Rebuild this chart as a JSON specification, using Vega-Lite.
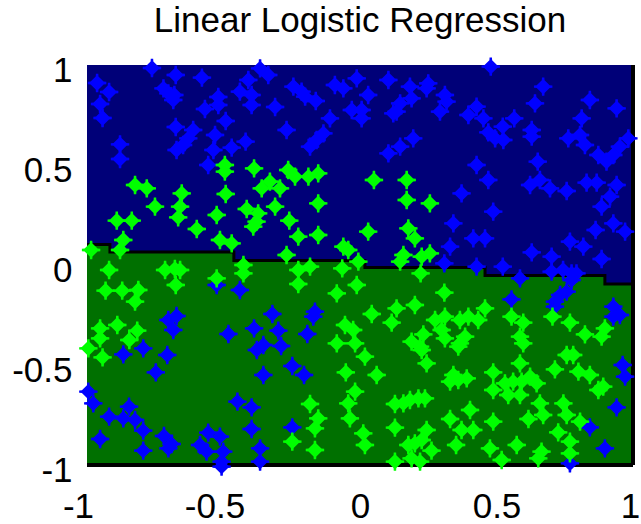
{
"$schema":"https://vega.github.io/schema/vega-lite/v6.json",
"width":546,"height":400,
"autosize":{"type":"none"},
"padding":{"left":87,"top":65,"right":8,"bottom":59},
"background":"white",
"view":{"fill":"#000078","stroke":null},
"title":{"text":"Linear Logistic Regression","font":"Liberation Sans","fontSize":35,"fontWeight":"normal","color":"black","baseline":"alphabetic","offset":0,"dy":14,"anchor":"middle"},
"datasets":{
"bnd":[{"x":-1,"y":0.103},{"x":-0.916,"y":0.065},{"x":-0.462,"y":0.022},{"x":0.018,"y":-0.0125},{"x":0.458,"y":-0.0525},{"x":0.897,"y":-0.095},{"x":1,"y":-0.095}],
"pts":[
{"x":-0.762,"y":0.985,"c":"b"},{"x":-0.675,"y":0.95,"c":"b"},{"x":-0.579,"y":0.937,"c":"b"},{"x":-0.963,"y":0.91,"c":"b"},{"x":-0.919,"y":0.865,"c":"b"},{"x":-0.952,"y":0.805,"c":"b"},{"x":-0.943,"y":0.735,"c":"b"},
{"x":-0.72,"y":0.883,"c":"b"},{"x":-0.702,"y":0.858,"c":"b"},{"x":-0.68,"y":0.85,"c":"b"},{"x":-0.684,"y":0.825,"c":"b"},
{"x":-0.519,"y":0.84,"c":"b"},{"x":-0.519,"y":0.8,"c":"b"},{"x":-0.568,"y":0.78,"c":"b"},{"x":-0.492,"y":0.72,"c":"b"},{"x":-0.675,"y":0.69,"c":"b"},
{"x":-0.611,"y":0.675,"c":"b"},{"x":-0.629,"y":0.633,"c":"b"},{"x":-0.648,"y":0.6,"c":"b"},{"x":-0.672,"y":0.575,"c":"b"},
{"x":-0.531,"y":0.65,"c":"b"},{"x":-0.537,"y":0.575,"c":"b"},{"x":-0.47,"y":0.587,"c":"b"},{"x":-0.419,"y":0.617,"c":"b"},{"x":-0.879,"y":0.603,"c":"b"},{"x":-0.879,"y":0.53,"c":"b"},{"x":-0.556,"y":0.5,"c":"b"},
{"x":-0.366,"y":0.983,"c":"b"},{"x":-0.336,"y":0.95,"c":"b"},{"x":-0.409,"y":0.925,"c":"b"},{"x":-0.44,"y":0.867,"c":"b"},{"x":-0.397,"y":0.85,"c":"b"},{"x":-0.397,"y":0.8,"c":"b"},{"x":-0.311,"y":0.79,"c":"b"},
{"x":-0.244,"y":0.892,"c":"b"},{"x":-0.214,"y":0.867,"c":"b"},{"x":-0.201,"y":0.842,"c":"b"},{"x":-0.162,"y":0.82,"c":"b"},{"x":-0.11,"y":0.733,"c":"b"},{"x":-0.092,"y":0.9,"c":"b"},{"x":-0.061,"y":0.883,"c":"b"},
{"x":-0.012,"y":0.933,"c":"b"},{"x":-0.03,"y":0.775,"c":"b"},{"x":-0.269,"y":0.675,"c":"b"},{"x":-0.134,"y":0.658,"c":"b"},{"x":-0.159,"y":0.625,"c":"b"},{"x":-0.183,"y":0.592,"c":"b"},
{"x":0.479,"y":0.992,"c":"b"},{"x":0.104,"y":0.925,"c":"b"},{"x":0.183,"y":0.892,"c":"b"},{"x":0.25,"y":0.908,"c":"b"},{"x":0.244,"y":0.883,"c":"b"},{"x":0.03,"y":0.85,"c":"b"},{"x":0.671,"y":0.892,"c":"b"},
{"x":0.311,"y":0.85,"c":"b"},{"x":0.317,"y":0.817,"c":"b"},{"x":0.189,"y":0.833,"c":"b"},{"x":0.147,"y":0.808,"c":"b"},{"x":0.134,"y":0.767,"c":"b"},{"x":0.122,"y":0.758,"c":"b"},{"x":0.006,"y":0.775,"c":"b"},{"x":0.006,"y":0.733,"c":"b"},
{"x":0.293,"y":0.767,"c":"b"},{"x":0.427,"y":0.792,"c":"b"},{"x":0.397,"y":0.75,"c":"b"},{"x":0.452,"y":0.733,"c":"b"},{"x":0.641,"y":0.808,"c":"b"},{"x":0.842,"y":0.825,"c":"b"},{"x":0.94,"y":0.783,"c":"b"},{"x":0.565,"y":0.733,"c":"b"},{"x":0.812,"y":0.733,"c":"b"},
{"x":0.523,"y":0.692,"c":"b"},{"x":0.47,"y":0.663,"c":"b"},{"x":0.495,"y":0.633,"c":"b"},{"x":0.525,"y":0.625,"c":"b"},{"x":0.629,"y":0.675,"c":"b"},{"x":0.629,"y":0.642,"c":"b"},
{"x":0.195,"y":0.633,"c":"b"},{"x":0.147,"y":0.592,"c":"b"},{"x":0.104,"y":0.558,"c":"b"},{"x":0.763,"y":0.633,"c":"b"},{"x":0.806,"y":0.65,"c":"b"},{"x":0.824,"y":0.6,"c":"b"},
{"x":0.983,"y":0.633,"c":"b"},{"x":0.952,"y":0.592,"c":"b"},{"x":0.928,"y":0.55,"c":"b"},{"x":0.903,"y":0.517,"c":"b"},{"x":0.873,"y":0.55,"c":"b"},
{"x":0.427,"y":0.5,"c":"b"},{"x":0.651,"y":0.517,"c":"b"},{"x":0.47,"y":0.425,"c":"b"},{"x":0.623,"y":0.4,"c":"b"},{"x":0.659,"y":0.425,"c":"b"},{"x":0.696,"y":0.383,"c":"b"},{"x":0.757,"y":0.37,"c":"b"},
{"x":0.83,"y":0.412,"c":"b"},{"x":0.867,"y":0.412,"c":"b"},{"x":0.94,"y":0.4,"c":"b"},{"x":0.916,"y":0.342,"c":"b"},{"x":0.885,"y":0.292,"c":"b"},{"x":0.372,"y":0.358,"c":"b"},{"x":0.488,"y":0.267,"c":"b"},{"x":0.342,"y":0.208,"c":"b"},
{"x":0.863,"y":0.175,"c":"b"},{"x":0.928,"y":0.208,"c":"b"},{"x":0.971,"y":0.167,"c":"b"},{"x":0.415,"y":0.133,"c":"b"},{"x":0.458,"y":0.133,"c":"b"},{"x":0.33,"y":0.092,"c":"b"},{"x":0.769,"y":0.117,"c":"b"},{"x":0.818,"y":0.092,"c":"b"},
{"x":0.629,"y":0.063,"c":"b"},{"x":0.702,"y":0.042,"c":"b"},{"x":0.885,"y":0.03,"c":"b"},
{"x":0.309,"y":0.008,"c":"b"},{"x":0.427,"y":-0.008,"c":"b"},{"x":0.523,"y":-0.008,"c":"b"},{"x":0.586,"y":-0.067,"c":"b"},{"x":0.702,"y":-0.033,"c":"b"},{"x":0.744,"y":-0.025,"c":"b"},{"x":0.775,"y":-0.042,"c":"b"},{"x":0.793,"y":-0.042,"c":"b"},{"x":0.775,"y":-0.075,"c":"b"},
{"x":0.757,"y":-0.133,"c":"b"},{"x":0.733,"y":-0.15,"c":"b"},{"x":0.714,"y":-0.183,"c":"b"},{"x":0.714,"y":-0.208,"c":"b"},{"x":0.555,"y":-0.172,"c":"b"},{"x":0.928,"y":-0.208,"c":"b"},{"x":0.928,"y":-0.258,"c":"b"},{"x":0.952,"y":-0.25,"c":"b"},
{"x":0.962,"y":-0.5,"c":"b"},{"x":0.971,"y":-0.558,"c":"b"},{"x":0.94,"y":-0.712,"c":"b"},{"x":0.842,"y":-0.812,"c":"b"},{"x":0.897,"y":-0.917,"c":"b"},{"x":0.769,"y":-0.992,"c":"b"},
{"x":-0.525,"y":-0.1,"c":"b"},{"x":-0.44,"y":-0.125,"c":"b"},{"x":-0.702,"y":-0.275,"c":"b"},{"x":-0.672,"y":-0.255,"c":"b"},{"x":-0.684,"y":-0.325,"c":"b"},{"x":-0.321,"y":-0.245,"c":"b"},{"x":-0.165,"y":-0.233,"c":"b"},{"x":-0.171,"y":-0.258,"c":"b"},
{"x":-0.482,"y":-0.345,"c":"b"},{"x":-0.388,"y":-0.317,"c":"b"},{"x":-0.299,"y":-0.328,"c":"b"},{"x":-0.193,"y":-0.345,"c":"b"},{"x":-0.794,"y":-0.417,"c":"b"},{"x":-0.867,"y":-0.447,"c":"b"},{"x":-0.706,"y":-0.45,"c":"b"},
{"x":-0.378,"y":-0.425,"c":"b"},{"x":-0.354,"y":-0.4,"c":"b"},{"x":-0.289,"y":-0.405,"c":"b"},{"x":-0.748,"y":-0.537,"c":"b"},{"x":-0.248,"y":-0.505,"c":"b"},{"x":-0.205,"y":-0.55,"c":"b"},{"x":-0.354,"y":-0.55,"c":"b"},
{"x":-0.995,"y":-0.633,"c":"b"},{"x":-0.977,"y":-0.692,"c":"b"},{"x":-0.846,"y":-0.708,"c":"b"},{"x":-0.919,"y":-0.758,"c":"b"},{"x":-0.867,"y":-0.767,"c":"b"},{"x":-0.824,"y":-0.775,"c":"b"},{"x":-0.794,"y":-0.828,"c":"b"},{"x":-0.952,"y":-0.87,"c":"b"},{"x":-0.794,"y":-0.928,"c":"b"},
{"x":-0.718,"y":-0.855,"c":"b"},{"x":-0.69,"y":-0.895,"c":"b"},{"x":-0.702,"y":-0.917,"c":"b"},{"x":-0.449,"y":-0.683,"c":"b"},{"x":-0.397,"y":-0.712,"c":"b"},{"x":-0.397,"y":-0.82,"c":"b"},{"x":-0.248,"y":-0.812,"c":"b"},
{"x":-0.556,"y":-0.838,"c":"b"},{"x":-0.513,"y":-0.858,"c":"b"},{"x":-0.586,"y":-0.9,"c":"b"},{"x":-0.562,"y":-0.933,"c":"b"},{"x":-0.501,"y":-0.933,"c":"b"},{"x":-0.507,"y":-0.983,"c":"b"},{"x":-0.507,"y":-1.008,"c":"b"},
{"x":-0.366,"y":-0.917,"c":"b"},{"x":-0.366,"y":-0.983,"c":"b"},
{"x":-0.495,"y":0.5,"c":"g"},{"x":-0.495,"y":0.467,"c":"g"},{"x":-0.388,"y":0.483,"c":"g"},{"x":-0.263,"y":0.475,"c":"g"},{"x":-0.238,"y":0.442,"c":"g"},{"x":-0.189,"y":0.442,"c":"g"},{"x":-0.153,"y":0.458,"c":"g"},
{"x":-0.824,"y":0.4,"c":"g"},{"x":-0.781,"y":0.383,"c":"g"},{"x":-0.653,"y":0.358,"c":"g"},{"x":-0.659,"y":0.292,"c":"g"},{"x":-0.666,"y":0.238,"c":"g"},{"x":-0.492,"y":0.355,"c":"g"},
{"x":-0.36,"y":0.383,"c":"g"},{"x":-0.33,"y":0.417,"c":"g"},{"x":-0.293,"y":0.383,"c":"g"},{"x":-0.751,"y":0.292,"c":"g"},
{"x":-0.415,"y":0.28,"c":"g"},{"x":-0.373,"y":0.258,"c":"g"},{"x":-0.379,"y":0.217,"c":"g"},{"x":-0.391,"y":0.192,"c":"g"},{"x":-0.311,"y":0.292,"c":"g"},{"x":-0.153,"y":0.308,"c":"g"},
{"x":-0.891,"y":0.222,"c":"g"},{"x":-0.836,"y":0.222,"c":"g"},{"x":-0.525,"y":0.25,"c":"g"},{"x":-0.598,"y":0.18,"c":"g"},{"x":-0.259,"y":0.222,"c":"g"},{"x":-0.226,"y":0.142,"c":"g"},{"x":-0.153,"y":0.15,"c":"g"},
{"x":-0.513,"y":0.125,"c":"g"},{"x":-0.47,"y":0.108,"c":"g"},{"x":-0.867,"y":0.125,"c":"g"},{"x":-0.879,"y":0.075,"c":"g"},{"x":-0.985,"y":0.075,"c":"g"},{"x":-0.269,"y":0.05,"c":"g"},{"x":-0.061,"y":0.092,"c":"g"},{"x":-0.043,"y":0.075,"c":"g"},
{"x":0.051,"y":0.425,"c":"g"},{"x":0.171,"y":0.425,"c":"g"},{"x":0.171,"y":0.325,"c":"g"},{"x":0.256,"y":0.308,"c":"g"},{"x":0.03,"y":0.167,"c":"g"},{"x":0.177,"y":0.183,"c":"g"},{"x":0.201,"y":0.133,"c":"g"},
{"x":0.159,"y":0.05,"c":"g"},{"x":0.147,"y":0.017,"c":"g"},{"x":0.226,"y":0.042,"c":"g"},{"x":0.256,"y":0.058,"c":"g"},{"x":-0.006,"y":0.017,"c":"g"},
{"x":-0.919,"y":-0.025,"c":"g"},{"x":-0.714,"y":-0.025,"c":"g"},{"x":-0.678,"y":-0.02,"c":"g"},{"x":-0.659,"y":-0.025,"c":"g"},{"x":-0.675,"y":-0.1,"c":"g"},{"x":-0.525,"y":-0.067,"c":"g"},{"x":-0.427,"y":0.0,"c":"g"},{"x":-0.427,"y":-0.042,"c":"g"},
{"x":-0.932,"y":-0.128,"c":"g"},{"x":-0.871,"y":-0.128,"c":"g"},{"x":-0.812,"y":-0.125,"c":"g"},{"x":-0.824,"y":-0.183,"c":"g"},{"x":-0.952,"y":-0.317,"c":"g"},{"x":-0.952,"y":-0.367,"c":"g"},{"x":-0.889,"y":-0.3,"c":"g"},{"x":-0.816,"y":-0.328,"c":"g"},
{"x":-0.845,"y":-0.375,"c":"g"},{"x":-0.995,"y":-0.417,"c":"g"},{"x":-0.943,"y":-0.462,"c":"g"},{"x":-0.226,"y":-0.025,"c":"g"},{"x":-0.183,"y":-0.008,"c":"g"},{"x":-0.226,"y":-0.095,"c":"g"},{"x":-0.065,"y":-0.017,"c":"g"},{"x":-0.085,"y":-0.142,"c":"g"},{"x":-0.012,"y":-0.1,"c":"g"},
{"x":-0.055,"y":-0.3,"c":"g"},{"x":-0.025,"y":-0.325,"c":"g"},{"x":-0.018,"y":-0.392,"c":"g"},{"x":-0.085,"y":-0.392,"c":"g"},{"x":-0.052,"y":-0.537,"c":"g"},{"x":-0.018,"y":-0.633,"c":"g"},{"x":-0.183,"y":-0.695,"c":"g"},{"x":-0.043,"y":-0.692,"c":"g"},{"x":-0.037,"y":-0.767,"c":"g"},
{"x":-0.153,"y":-0.767,"c":"g"},{"x":-0.165,"y":-0.817,"c":"g"},{"x":-0.248,"y":-0.883,"c":"g"},{"x":-0.165,"y":-0.925,"c":"g"},
{"x":0.222,"y":-0.042,"c":"g"},{"x":0.309,"y":-0.138,"c":"g"},{"x":0.458,"y":-0.217,"c":"g"},{"x":0.043,"y":-0.245,"c":"g"},{"x":0.134,"y":-0.217,"c":"g"},{"x":0.201,"y":-0.2,"c":"g"},{"x":0.116,"y":-0.288,"c":"g"},
{"x":0.275,"y":-0.275,"c":"g"},{"x":0.311,"y":-0.258,"c":"g"},{"x":0.366,"y":-0.275,"c":"g"},{"x":0.397,"y":-0.258,"c":"g"},{"x":0.433,"y":-0.275,"c":"g"},{"x":0.555,"y":-0.258,"c":"g"},{"x":0.598,"y":-0.288,"c":"g"},{"x":0.705,"y":-0.258,"c":"g"},{"x":0.769,"y":-0.288,"c":"g"},
{"x":0.824,"y":-0.347,"c":"g"},{"x":0.897,"y":-0.317,"c":"g"},{"x":0.885,"y":-0.358,"c":"g"},{"x":0.232,"y":-0.347,"c":"g"},{"x":0.299,"y":-0.325,"c":"g"},{"x":0.311,"y":-0.367,"c":"g"},{"x":0.189,"y":-0.383,"c":"g"},{"x":0.22,"y":-0.408,"c":"g"},{"x":0.226,"y":-0.425,"c":"g"},
{"x":0.385,"y":-0.358,"c":"g"},{"x":0.366,"y":-0.392,"c":"g"},{"x":0.36,"y":-0.408,"c":"g"},{"x":0.586,"y":-0.358,"c":"g"},{"x":0.598,"y":-0.392,"c":"g"},{"x":0.018,"y":-0.458,"c":"g"},{"x":0.244,"y":-0.492,"c":"g"},{"x":0.586,"y":-0.492,"c":"g"},{"x":0.757,"y":-0.45,"c":"g"},{"x":0.781,"y":-0.45,"c":"g"},
{"x":0.061,"y":-0.55,"c":"g"},{"x":0.342,"y":-0.55,"c":"g"},{"x":0.33,"y":-0.583,"c":"g"},{"x":0.391,"y":-0.567,"c":"g"},{"x":0.36,"y":-0.575,"c":"g"},{"x":0.488,"y":-0.537,"c":"g"},{"x":0.531,"y":-0.592,"c":"g"},{"x":0.561,"y":-0.583,"c":"g"},{"x":0.592,"y":-0.583,"c":"g"},{"x":0.623,"y":-0.558,"c":"g"},{"x":0.647,"y":-0.592,"c":"g"},
{"x":0.714,"y":-0.522,"c":"g"},{"x":0.8,"y":-0.533,"c":"g"},{"x":0.842,"y":-0.55,"c":"g"},{"x":0.891,"y":-0.608,"c":"g"},{"x":0.873,"y":-0.625,"c":"g"},{"x":0.488,"y":-0.625,"c":"g"},{"x":0.543,"y":-0.65,"c":"g"},{"x":0.586,"y":-0.65,"c":"g"},
{"x":0.183,"y":-0.675,"c":"g"},{"x":0.214,"y":-0.667,"c":"g"},{"x":0.238,"y":-0.667,"c":"g"},{"x":0.159,"y":-0.692,"c":"g"},{"x":0.128,"y":-0.695,"c":"g"},{"x":0.403,"y":-0.725,"c":"g"},{"x":0.659,"y":-0.692,"c":"g"},{"x":0.671,"y":-0.75,"c":"g"},{"x":0.745,"y":-0.692,"c":"g"},{"x":0.757,"y":-0.75,"c":"g"},
{"x":0.33,"y":-0.77,"c":"g"},{"x":0.488,"y":-0.783,"c":"g"},{"x":0.617,"y":-0.77,"c":"g"},{"x":0.806,"y":-0.783,"c":"g"},{"x":0.128,"y":-0.813,"c":"g"},{"x":0.372,"y":-0.825,"c":"g"},{"x":0.415,"y":-0.825,"c":"g"},{"x":0.726,"y":-0.837,"c":"g"},{"x":0.012,"y":-0.842,"c":"g"},{"x":0.018,"y":-0.9,"c":"g"},
{"x":0.244,"y":-0.825,"c":"g"},{"x":0.226,"y":-0.875,"c":"g"},{"x":0.201,"y":-0.892,"c":"g"},{"x":0.177,"y":-0.9,"c":"g"},{"x":0.262,"y":-0.928,"c":"g"},{"x":0.352,"y":-0.9,"c":"g"},{"x":0.476,"y":-0.917,"c":"g"},{"x":0.574,"y":-0.9,"c":"g"},{"x":0.665,"y":-0.933,"c":"g"},{"x":0.653,"y":-0.967,"c":"g"},
{"x":0.769,"y":-0.883,"c":"g"},{"x":0.769,"y":-0.942,"c":"g"},{"x":0.128,"y":-0.983,"c":"g"},{"x":0.189,"y":-0.967,"c":"g"},{"x":0.22,"y":-0.983,"c":"g"},{"x":0.519,"y":-0.975,"c":"g"}
]},
"encoding":{
"x":{"field":"x","type":"quantitative","scale":{"domain":[-1,1],"nice":false,"zero":false},
 "axis":{"values":[-1,-0.5,0,0.5,1],"title":null,"domain":false,"ticks":false,"tickSize":0,"grid":false,"labelFont":"Liberation Sans","labelFontSize":35,"labelColor":"black","labelFlush":false,"labelOverlap":false,"labelBound":false,"labelBaseline":"alphabetic","labelPadding":52,"labelAlign":"center","labelExpr":"'' + datum.value","labelOffset":{"condition":[{"test":"datum.value < 0","value":-9},{"test":"datum.value == 1","value":-3}],"value":0}}},
"y":{"field":"y","type":"quantitative","scale":{"domain":[-1,1],"nice":false,"zero":false},
 "axis":{"values":[-1,-0.5,0,0.5,1],"title":null,"domain":false,"ticks":false,"tickSize":0,"grid":false,"labelFont":"Liberation Sans","labelFontSize":35,"labelColor":"black","labelFlush":false,"labelOverlap":false,"labelBound":false,"labelBaseline":"alphabetic","labelAlign":"right","labelPadding":15,"labelOffset":16,"labelExpr":"'' + datum.value"}}
},
"layer":[
{"data":{"name":"bnd"},"mark":{"type":"area","interpolate":"step-after","color":"#007000"},"encoding":{"y2":{"datum":-1}}},
{"data":{"name":"bnd"},"mark":{"type":"line","interpolate":"step-after","color":"black","strokeWidth":3}},
{"data":{"name":"bnd"},"mark":{"type":"rule","color":"black","strokeWidth":3},"encoding":{"x":{"datum":1},"y":{"datum":-1},"y2":{"datum":1}}},
{"data":{"name":"bnd"},"mark":{"type":"rule","color":"black","strokeWidth":3},"encoding":{"y":{"datum":-1},"x":{"datum":-1},"x2":{"datum":1}}},
{"data":{"name":"pts"},"mark":{"type":"point","filled":true,"opacity":1,"strokeWidth":0,"size":340,"shape":"M-0.13,-1L0.13,-1L0.15,-0.7L0.7,-0.15L1,-0.13L1,0.13L0.7,0.15L0.15,0.7L0.13,1L-0.13,1L-0.15,0.7L-0.7,0.15L-1,0.13L-1,-0.13L-0.7,-0.15L-0.15,-0.7Z"},
 "encoding":{"color":{"field":"c","type":"nominal","scale":{"domain":["b","g"],"range":["#0000ff","#00ff00"]},"legend":null}}}
]
}
